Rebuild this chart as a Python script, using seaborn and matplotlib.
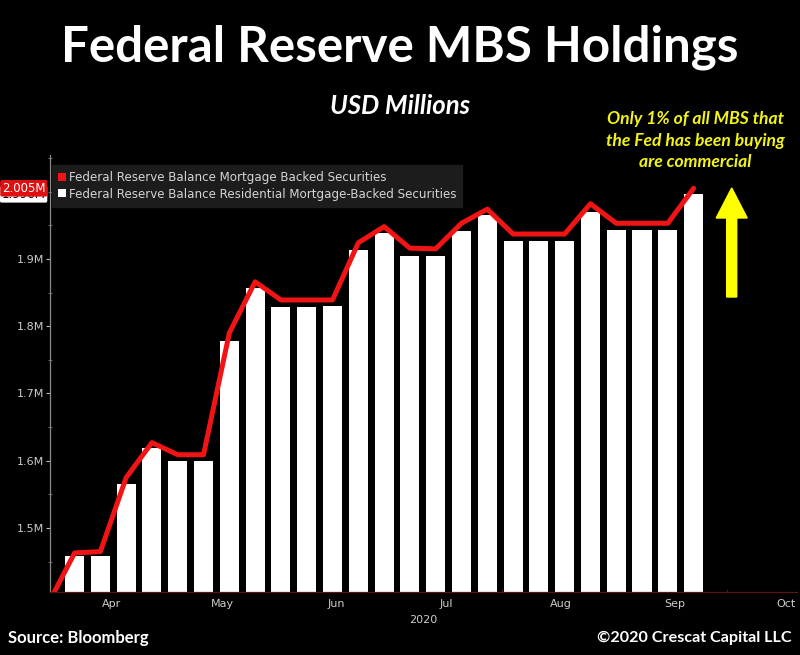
import matplotlib
matplotlib.use("Agg")
import matplotlib.pyplot as plt
import matplotlib.dates as mdates
import matplotlib.ticker as mticker
from matplotlib.lines import Line2D
from matplotlib.patches import FancyArrow
from matplotlib.transforms import blended_transform_factory
import pandas as pd
import seaborn as sns

# ---------------- data ----------------
bar_dates = ["2020-03-22", "2020-03-29", "2020-04-05", "2020-04-12", "2020-04-19",
             "2020-04-26", "2020-05-03", "2020-05-10", "2020-05-17", "2020-05-24",
             "2020-05-31", "2020-06-07", "2020-06-14", "2020-06-21", "2020-06-28",
             "2020-07-05", "2020-07-12", "2020-07-19", "2020-07-26", "2020-08-02",
             "2020-08-09", "2020-08-16", "2020-08-23", "2020-08-30", "2020-09-06"]
residential_mbs = [1459000, 1459000, 1566000, 1619000, 1600000, 1600000, 1778000,
                   1857000, 1829000, 1829000, 1830000, 1913000, 1939000, 1905000,
                   1905000, 1942000, 1965000, 1927000, 1927000, 1927000, 1970000,
                   1943000, 1943000, 1943000, 1996000]

line_dates = ["2020-03-15"] + bar_dates
total_mbs = [1389000, 1463000, 1465000, 1575000, 1627000, 1609000, 1609000, 1790000,
             1866000, 1839000, 1839000, 1839000, 1924000, 1948000, 1916000, 1915000,
             1953000, 1974000, 1937000, 1937000, 1937000, 1982000, 1953000, 1953000,
             1953000, 2005000]

month_ticks = ["2020-04-01", "2020-05-01", "2020-06-01", "2020-07-01",
               "2020-08-01", "2020-09-01", "2020-10-01"]
month_labels = ["Apr", "May", "Jun", "Jul", "Aug", "Sep", "Oct"]
y_ticks = [1500000, 1600000, 1700000, 1800000, 1900000]

series_total = "Federal Reserve Balance Mortgage Backed Securities"
series_resid = "Federal Reserve Balance Residential Mortgage-Backed Securities"

# ---------------- style ----------------
sns.set_theme(style="dark")
plt.rcParams.update({
    "figure.facecolor": "black",
    "axes.facecolor": "black",
    "savefig.facecolor": "black",
    "text.color": "white",
    "axes.labelcolor": "#cccccc",
    "xtick.color": "#cccccc",
    "ytick.color": "#cccccc",
})
plt.rcParams["font.family"] = ["DejaVu Sans"]

fig = plt.figure(figsize=(8.0, 6.55), dpi=100)
ax = fig.add_axes([0.0625, 0.0962, 0.9335, 0.6672])

bar_x = mdates.date2num(pd.to_datetime(bar_dates))
line_x = mdates.date2num(pd.to_datetime(line_dates))

sns.barplot(x=bar_x, y=residential_mbs, native_scale=True, width=0.74,
            color="white", saturation=1, linewidth=0, ax=ax)
sns.lineplot(x=line_x, y=total_mbs, color="#f01414", linewidth=3.6,
             solid_joinstyle="round", solid_capstyle="round", ax=ax)

ax.set_xlim(mdates.date2num(pd.Timestamp("2020-03-15 08:00")),
            mdates.date2num(pd.Timestamp("2020-10-04")))
ax.set_ylim(1405000, 2054500)
ax.set_xlabel("")
ax.set_ylabel("")
ax.grid(False)

# axes styling
for s in ["top", "right"]:
    ax.spines[s].set_visible(False)
ax.spines["left"].set_color("#8a8a8a")
ax.spines["left"].set_linewidth(0.9)
ax.spines["bottom"].set_color("#5a1414")
ax.spines["bottom"].set_linewidth(0.9)

ax.set_yticks(y_ticks)
ax.yaxis.set_major_formatter(mticker.FuncFormatter(lambda v, p: f"{v/1e6:.1f}M"))
ax.yaxis.set_minor_locator(mticker.MultipleLocator(50000))
ax.tick_params(axis="y", which="major", direction="out", length=3, width=0.8,
               color="#bbbbbb", labelsize=8, pad=1, left=True)
ax.tick_params(axis="y", which="minor", direction="inout", length=3, width=0.6,
               color="#777777", left=True)

ax.set_xticks(mdates.date2num(pd.to_datetime(month_ticks)))
ax.set_xticklabels(month_labels)
ax.tick_params(axis="x", which="major", length=0, labelsize=8, pad=5, bottom=True)
ax.xaxis.set_minor_locator(mticker.FixedLocator(
    mdates.date2num(pd.to_datetime(["2020-04-17", "2020-05-16", "2020-06-15",
                                    "2020-07-16", "2020-08-16", "2020-09-15"]))))
ax.tick_params(axis="x", which="minor", direction="in", length=2, width=0.6,
               color="#6a1a1a", bottom=True)
ax.text(0.5, -0.052, "2020", transform=ax.transAxes, ha="center", va="top",
        fontsize=8, color="#cccccc")

# legend
handles = [Line2D([0], [0], marker="s", linestyle="", markersize=5.5,
                  markerfacecolor="#f01414", markeredgewidth=0),
           Line2D([0], [0], marker="s", linestyle="", markersize=5.5,
                  markerfacecolor="white", markeredgewidth=0)]
leg = ax.legend(handles, [series_total, series_resid], loc="upper left",
                bbox_to_anchor=(0.003, 0.977), borderaxespad=0, fontsize=8.6,
                handlelength=0.6, handletextpad=0.3, labelspacing=0.3,
                borderpad=0.5, frameon=True, fancybox=False)
leg.get_frame().set_facecolor("#1c1c1c")
leg.get_frame().set_edgecolor("#1c1c1c")
leg.get_frame().set_alpha(1)
for t in leg.get_texts():
    t.set_color("#d4d4d4")

# last-value tags on the y axis
trans = blended_transform_factory(ax.transAxes, ax.transData)
ax.text(-0.006, residential_mbs[-1], f"{residential_mbs[-1]/1e6:.3f}M",
        transform=trans, ha="right", va="center", fontsize=8.5, color="black",
        bbox=dict(boxstyle="round,pad=0.15", facecolor="white", edgecolor="none"),
        clip_on=False, zorder=5)
ax.text(-0.006, total_mbs[-1], f"{total_mbs[-1]/1e6:.3f}M",
        transform=trans, ha="right", va="center", fontsize=8.5, color="white",
        bbox=dict(boxstyle="round,pad=0.15", facecolor="#e01010", edgecolor="none"),
        clip_on=False, zorder=6)

# titles and annotations
fig.text(0.5, 0.928, "Federal Reserve MBS Holdings", ha="center", va="center",
         fontsize=35.5, fontweight="bold", color="white", family=["Lato", "DejaVu Sans"])
fig.text(0.5, 0.838, "USD Millions", ha="center", va="center", fontsize=18.5,
         fontweight="bold", fontstyle="italic", color="white",
         family=["Lato", "DejaVu Sans"])
fig.text(0.869, 0.785, "Only 1% of all MBS that\nthe Fed has been buying\nare commercial",
         ha="center", va="center", fontsize=12.6, fontweight="bold", fontstyle="italic",
         color="#f4f414", linespacing=1.42, family=["Lato", "DejaVu Sans"])

arrow = FancyArrow(7.317, (655 - 297) / 100, 0, (297 - 188) / 100,
                   width=0.10, head_width=0.31, head_length=0.30,
                   length_includes_head=True, color="#ffff00",
                   transform=fig.dpi_scale_trans)
fig.patches.append(arrow)

fig.text(0.01, 0.026, "Source: Bloomberg", ha="left", va="center", fontsize=12,
         fontweight="bold", color="white", family=["Lato", "DejaVu Sans"])
fig.text(0.99, 0.026, "\u00a92020 Crescat Capital LLC", ha="right", va="center",
         fontsize=11.6, fontweight="bold", color="white", family=["Lato", "DejaVu Sans"])

fig.savefig("out.png", dpi=100, facecolor="black")
